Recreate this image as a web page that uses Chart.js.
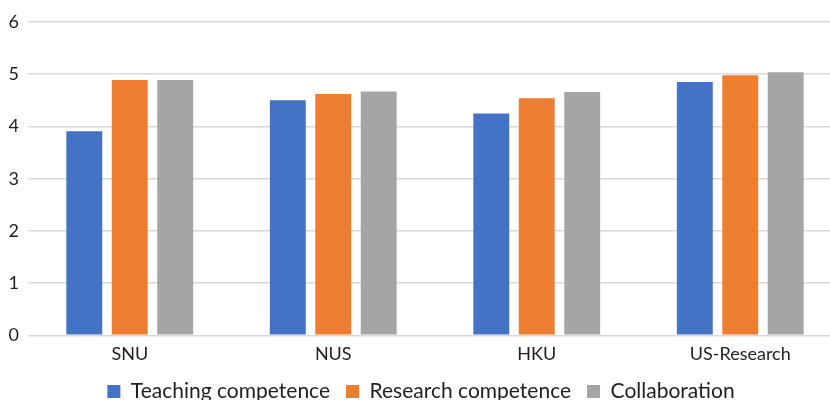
<!DOCTYPE html>
<html>
<head>
<meta charset="utf-8">
<script src="https://cdn.jsdelivr.net/npm/chart.js@4"></script>
<style>
html,body{margin:0;padding:0;background:#fff;overflow:hidden;width:830px;height:400px;}
#wrap{position:absolute;left:0;top:0;width:842px;height:412px;}
</style>
</head>
<body>
<div id="wrap"><canvas id="c" width="842" height="412"></canvas></div>
<script>
const categories = ["SNU", "NUS", "HKU", "US-Research"];
const teaching = [3.91, 4.50, 4.25, 4.85];
const research = [4.89, 4.62, 4.54, 4.98];
const collaboration = [4.89, 4.67, 4.66, 5.04];
const seriesNames = ["Teaching competence", "Research competence", "Collaboration"];
const yTicks = [0, 1, 2, 3, 4, 5, 6];

const FONT = "Lato, 'Open Sans', sans-serif";
const TEXT = "#1f1f1f";

new Chart(document.getElementById('c'), {
  type: 'bar',
  data: {
    labels: categories,
    datasets: [
      {label: seriesNames[0], data: teaching, backgroundColor: '#4472C4'},
      {label: seriesNames[1], data: research, backgroundColor: '#ED7D31'},
      {label: seriesNames[2], data: collaboration, backgroundColor: '#A5A5A5'}
    ]
  },
  options: {
    responsive: false,
    animation: false,
    devicePixelRatio: 1,
    layout: {padding: {top: 22, right: 0, left: 0, bottom: 0}},
    datasets: {bar: {categoryPercentage: 0.67, barPercentage: 0.79}},
    plugins: {
      tooltip: {enabled: false},
      legend: {
        position: 'bottom',
        labels: {
          font: {family: FONT, size: 21},
          color: TEXT,
          boxWidth: 13,
          boxHeight: 13,
          padding: 16
        }
      }
    },
    scales: {
      x: {
        grid: {display: false},
        border: {display: false},
        ticks: {font: {family: FONT, size: 18}, color: TEXT, padding: 0}
      },
      y: {
        min: yTicks[0],
        max: yTicks[yTicks.length - 1],
        afterBuildTicks: (s) => { s.ticks = yTicks.map(v => ({value: v})); },
        afterFit: (s) => { s.width = 28; },
        border: {display: false},
        grid: {color: '#D9D9D9', lineWidth: 1.6, drawTicks: false},
        ticks: {font: {family: FONT, size: 18}, color: TEXT, padding: 9, stepSize: 1}
      }
    }
  }
});
</script>
</body>
</html>
